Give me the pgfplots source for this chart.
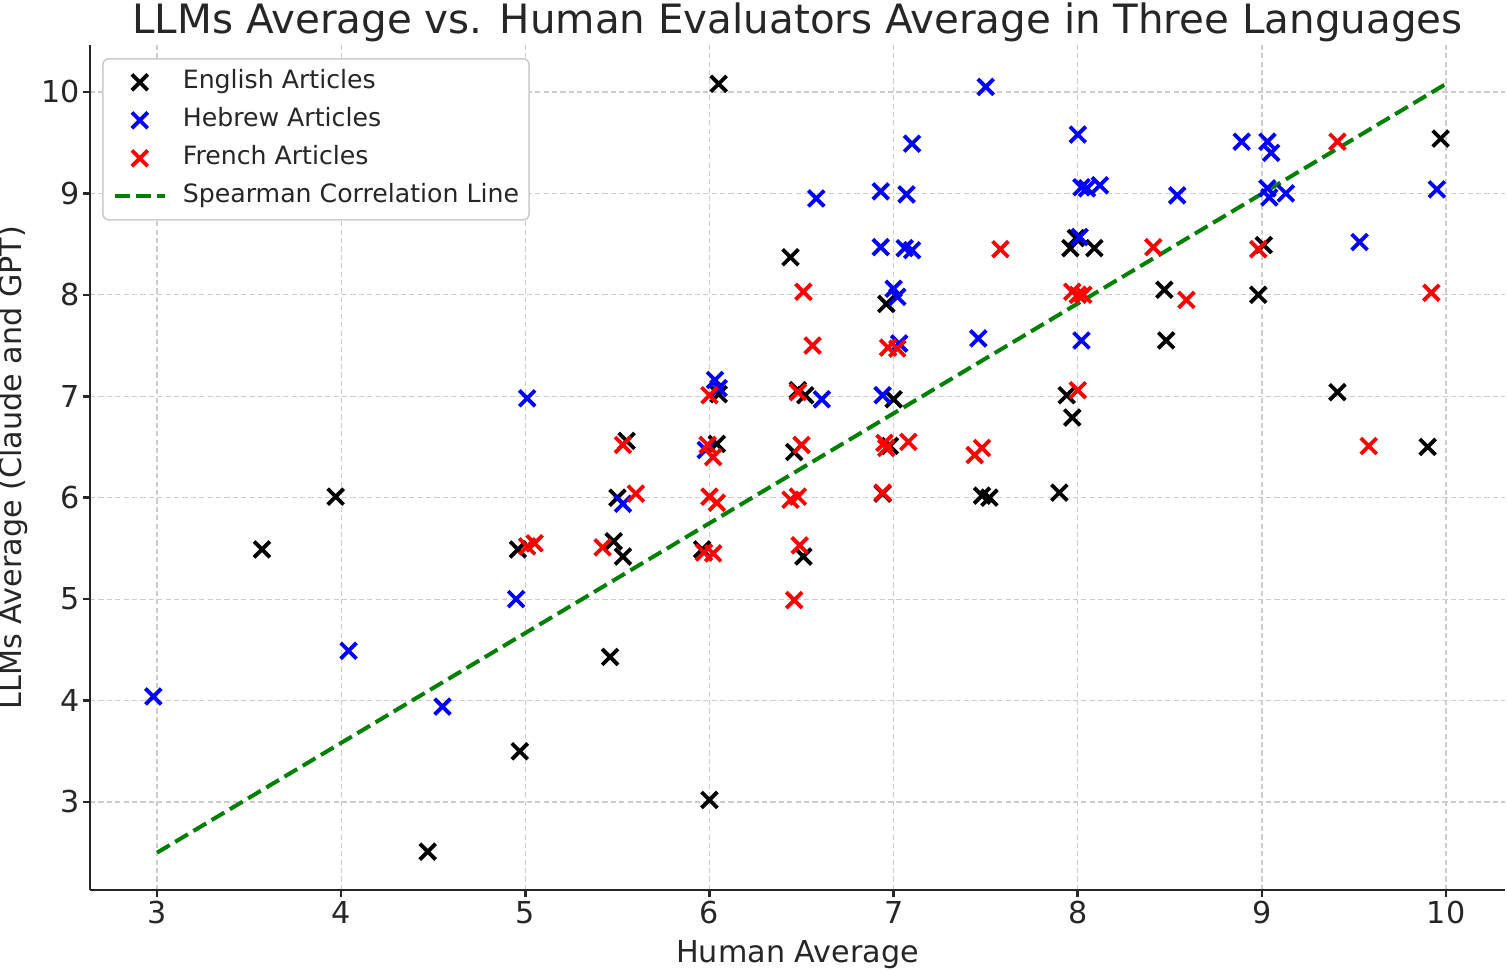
\documentclass[border=0pt]{standalone}
\usepackage{pgfplots}
\pgfplotsset{compat=1.18}
\usepackage{fontspec}
\setmainfont{DejaVu Sans}
\definecolor{txt}{RGB}{38,38,38}
\definecolor{gridc}{RGB}{205,205,205}
\definecolor{mplgreen}{RGB}{0,128,0}
\definecolor{legframe}{RGB}{204,204,204}
\pgfplotsset{
  markleg/.style={legend image code/.code={\draw[mark repeat=2,mark phase=2,##1] plot coordinates {(0pt,0pt) (12.5pt,0pt) (25pt,0pt)};}},
  lineleg/.style={legend image code/.code={\draw[##1] (0pt,0pt) -- (25pt,0pt);}},
  xm/.style={only marks, mark=x, mark size=5.6pt, mark options={line width=1.9pt}, markleg},
}
\begin{document}
\begin{tikzpicture}
\useasboundingbox (-45pt,-40pt) rectangle (708.5pt,445pt);
\begin{axis}[
  at={(0,0)}, anchor=south west,
  scale only axis, width=707.5pt, height=422.5pt,
  xmin=2.636, xmax=10.32, ymin=2.132, ymax=10.463,
  xtick={3,4,5,6,7,8,9,10}, ytick={3,4,5,6,7,8,9,10},
  axis lines*=left,
  axis line style={line width=1.3pt, color=txt},
  tick style={line width=1.3pt, color=txt},
  major tick length=3.5pt, tick align=outside,
  grid=major,
  grid style={gridc, line width=0.6pt, dash pattern=on 2.6pt off 1.6pt},
  /pgf/number format/assume math mode=true,
  ticklabel style={font=\fontsize{15.1}{18}\selectfont, text=txt},
  xticklabel style={anchor=base, inner sep=0pt, yshift=-13pt},
  yticklabel style={anchor=east, inner sep=0pt, xshift=-1.2pt},
  xlabel={Human Average},
  xlabel style={at={(axis description cs:0.5,0)}, anchor=base, inner sep=0pt, yshift=-36pt, font=\fontsize{15.1}{18}\selectfont, text=txt},
  ylabel={LLMs Average (Claude and GPT)},
  ylabel style={at={(axis description cs:-0.0544,0.5)}, anchor=center, inner sep=0pt, font=\fontsize{15.1}{18}\selectfont, text=txt},
  title={LLMs Average vs. Human Evaluators Average in Three Languages},
  title style={at={(axis description cs:0.5,1)}, anchor=base, inner sep=0pt, yshift=-0.5pt, font=\fontsize{20.2}{24}\selectfont, text=txt},
  legend cell align=left,
  legend style={at={(axis description cs:0.0085,0.9846)}, anchor=north west,
    draw=legframe, line width=0.8pt, rounded corners=3pt, fill=white,
    font=\fontsize{12.6}{15}\selectfont, text=txt,
    inner xsep=5pt, inner ysep=5.5pt, row sep=6.5pt,
    nodes={inner sep=0pt, text height=9.5pt, text depth=3pt},
    /tikz/every odd column/.append style={column sep=8pt}},
]
\addplot[black, xm]
  table {
x y
4.47 2.51
3.57 5.49
3.97 6.01
4.96 5.49
4.97 3.50
5.46 4.43
5.48 5.57
5.53 5.42
5.50 6.00
5.55 6.56
6.00 3.02
5.96 5.49
6.04 6.53
6.05 7.02
6.05 10.08
6.44 8.37
6.48 7.06
6.52 7.01
6.46 6.45
6.51 5.42
6.94 6.04
6.98 6.51
7.00 6.97
6.96 7.91
7.48 6.02
7.52 6.00
7.90 6.05
7.97 6.79
7.94 7.01
7.96 8.46
7.99 8.56
8.09 8.46
8.48 7.55
8.47 8.05
8.98 8.00
9.01 8.49
9.41 7.04
9.90 6.50
9.97 9.54
};
\addlegendentry{English Articles}
\addplot[blue, xm]
  table {
x y
2.98 4.04
4.04 4.49
4.55 3.94
4.95 5.00
5.01 6.98
5.53 5.94
5.98 6.47
6.03 7.16
6.05 7.08
6.61 6.97
6.58 8.95
6.93 9.02
6.93 8.47
7.00 8.06
7.02 7.98
7.06 8.46
7.10 8.44
7.10 9.49
7.07 8.99
7.03 7.52
6.94 7.01
7.46 7.57
7.50 10.05
8.00 9.58
8.02 9.06
8.05 9.05
8.12 9.08
8.01 8.57
8.02 7.55
8.54 8.98
8.89 9.51
9.03 9.51
9.05 9.40
9.03 9.05
9.04 8.96
9.13 9.00
9.53 8.52
9.95 9.04
};
\addlegendentry{Hebrew Articles}
\addplot[red, xm]
  table {
x y
5.01 5.52
5.05 5.55
5.42 5.51
5.60 6.04
5.53 6.52
6.00 7.01
5.99 6.52
6.02 6.40
6.00 6.01
6.04 5.95
5.97 5.46
6.02 5.45
6.48 7.04
6.50 6.52
6.44 5.98
6.48 6.01
6.49 5.53
6.46 4.99
6.51 8.03
6.56 7.50
6.97 7.48
7.02 7.47
6.95 6.54
6.96 6.49
7.08 6.55
6.94 6.05
7.44 6.42
7.48 6.49
7.58 8.45
7.97 8.03
8.00 8.00
8.03 8.00
8.00 7.06
8.41 8.47
8.59 7.95
8.98 8.45
9.41 9.51
9.92 8.02
9.58 6.51
};
\addlegendentry{French Articles}
\addplot[mplgreen, line width=2pt, dash pattern=on 7.4pt off 3.2pt, lineleg]
  coordinates {(3,2.5) (10,10.08)};
\addlegendentry{Spearman Correlation Line}
\end{axis}
\end{tikzpicture}
\end{document}
